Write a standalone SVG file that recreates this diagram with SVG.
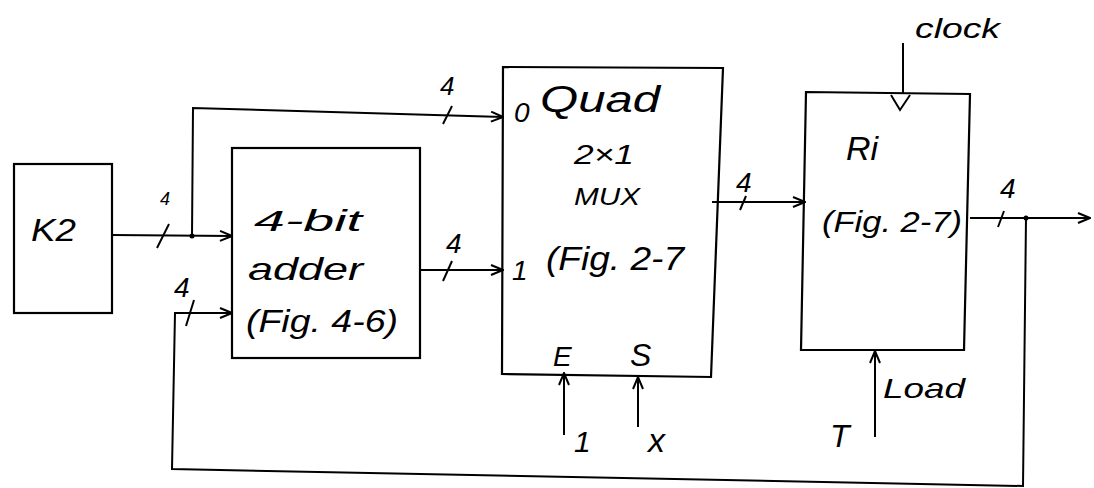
<svg xmlns="http://www.w3.org/2000/svg" width="1094" height="488" viewBox="0 0 1094 488">
<style>
.box{fill:none;stroke:#000;stroke-width:2.2}
.w{fill:none;stroke:#000;stroke-width:2}
.t{font-family:"Liberation Sans",Arial,sans-serif;font-style:italic;fill:#000}
.m{stroke:#000;stroke-width:2}
</style>
<defs>
<marker id="a" viewBox="0 0 14 12" refX="13" refY="6" markerWidth="14" markerHeight="12" markerUnits="userSpaceOnUse" orient="auto">
<path d="M1,1 L13,6 L1,11" fill="none" stroke="#000" stroke-width="2"/>
</marker>
</defs>
<rect width="1094" height="488" fill="#fff"/>

<g id="connectors">
<!-- K2 to adder -->
<path class="w" d="M112,235 L232,236" marker-end="url(#a)"/>
<line class="m" x1="157" y1="248" x2="169" y2="224"/>
<text class="t" x="160" y="205" font-size="18" fill="#444">4</text>
<circle cx="192" cy="236" r="2.5"/>
<!-- tap to MUX 0 -->
<path class="w" d="M192,236 L193,108 L503,117" marker-end="url(#a)"/>
<line class="m" x1="443" y1="124" x2="452" y2="106"/>
<text class="t" x="440" y="95" font-size="26">4</text>
<!-- adder to MUX 1 -->
<path class="w" d="M420,270 L503,270" marker-end="url(#a)"/>
<line class="m" x1="443" y1="281" x2="452" y2="261"/>
<text class="t" x="446" y="253" font-size="28">4</text>
<!-- MUX to R1 -->
<path class="w" d="M712,202 L805,202" marker-end="url(#a)"/>
<line class="m" x1="740" y1="210" x2="746" y2="196"/>
<text class="t" x="736" y="192" font-size="28">4</text>
<!-- R1 output -->
<path class="w" d="M970,218 L1090,218" marker-end="url(#a)"/>
<line class="m" x1="998" y1="227" x2="1004" y2="211"/>
<text class="t" x="1000" y="198" font-size="28">4</text>
<circle cx="1026" cy="218" r="2.5"/>
<!-- feedback -->
<path class="w" d="M1026,218 L1023,486 L172,469 L175,313 L232,313" marker-end="url(#a)"/>
<line class="m" x1="186" y1="326" x2="194" y2="300"/>
<text class="t" x="174" y="297" font-size="28">4</text>
<!-- E / S inputs -->
<path class="w" d="M564,435 L564,373" marker-end="url(#a)"/>
<text class="t" x="574" y="452" font-size="30">1</text>
<path class="w" d="M638,427 L638,377" marker-end="url(#a)"/>
<text class="t" x="648" y="452" font-size="34">x</text>
<!-- clock -->
<path class="w" d="M903,43 L903,93"/>
<path class="w" d="M891,95 L900,110 L910,95"/>
<text class="t" x="915" y="38" font-size="28" textLength="85" lengthAdjust="spacingAndGlyphs">clock</text>
<!-- Load -->
<path class="w" d="M875,437 L875,351" marker-end="url(#a)"/>
<text class="t" x="883" y="398" font-size="28" textLength="82" lengthAdjust="spacingAndGlyphs">Load</text>
<text class="t" x="830" y="447" font-size="32">T</text>
</g>

<g id="k2">
<rect class="box" x="14" y="164" width="98" height="149"/>
<text class="t" x="31" y="241" font-size="32" textLength="45" lengthAdjust="spacingAndGlyphs">K2</text>
</g>

<g id="adder">
<rect class="box" x="232" y="148" width="188" height="210"/>
<text class="t" x="254" y="231" font-size="30" textLength="108" lengthAdjust="spacingAndGlyphs">4-bit</text>
<text class="t" x="248" y="280" font-size="32" textLength="115" lengthAdjust="spacingAndGlyphs">adder</text>
<text class="t" x="246" y="332" font-size="32" textLength="152" lengthAdjust="spacingAndGlyphs">(Fig. 4-6)</text>
</g>

<g id="mux">
<path class="box" d="M503,67 L723,68 L711,377 L502,374 Z"/>
<text class="t" x="514" y="122" font-size="28">0</text>
<text class="t" x="540" y="112" font-size="36" textLength="120" lengthAdjust="spacingAndGlyphs">Quad</text>
<text class="t" x="574" y="164" font-size="28" textLength="60" lengthAdjust="spacingAndGlyphs">2×1</text>
<text class="t" x="574" y="205" font-size="24" textLength="66" lengthAdjust="spacingAndGlyphs">MUX</text>
<text class="t" x="546" y="270" font-size="34" textLength="138" lengthAdjust="spacingAndGlyphs">(Fig. 2-7</text>
<text class="t" x="512" y="280" font-size="28">1</text>
<text class="t" x="553" y="366" font-size="28">E</text>
<text class="t" x="630" y="366" font-size="32">S</text>
</g>

<g id="r1">
<path class="box" d="M806,92 L970,94 L964,350 L801,350 Z"/>
<text class="t" x="846" y="160" font-size="34">Ri</text>
<text class="t" x="822" y="232" font-size="30" fill="#555" textLength="140" lengthAdjust="spacingAndGlyphs">(Fig. 2-7)</text>
</g>
</svg>
